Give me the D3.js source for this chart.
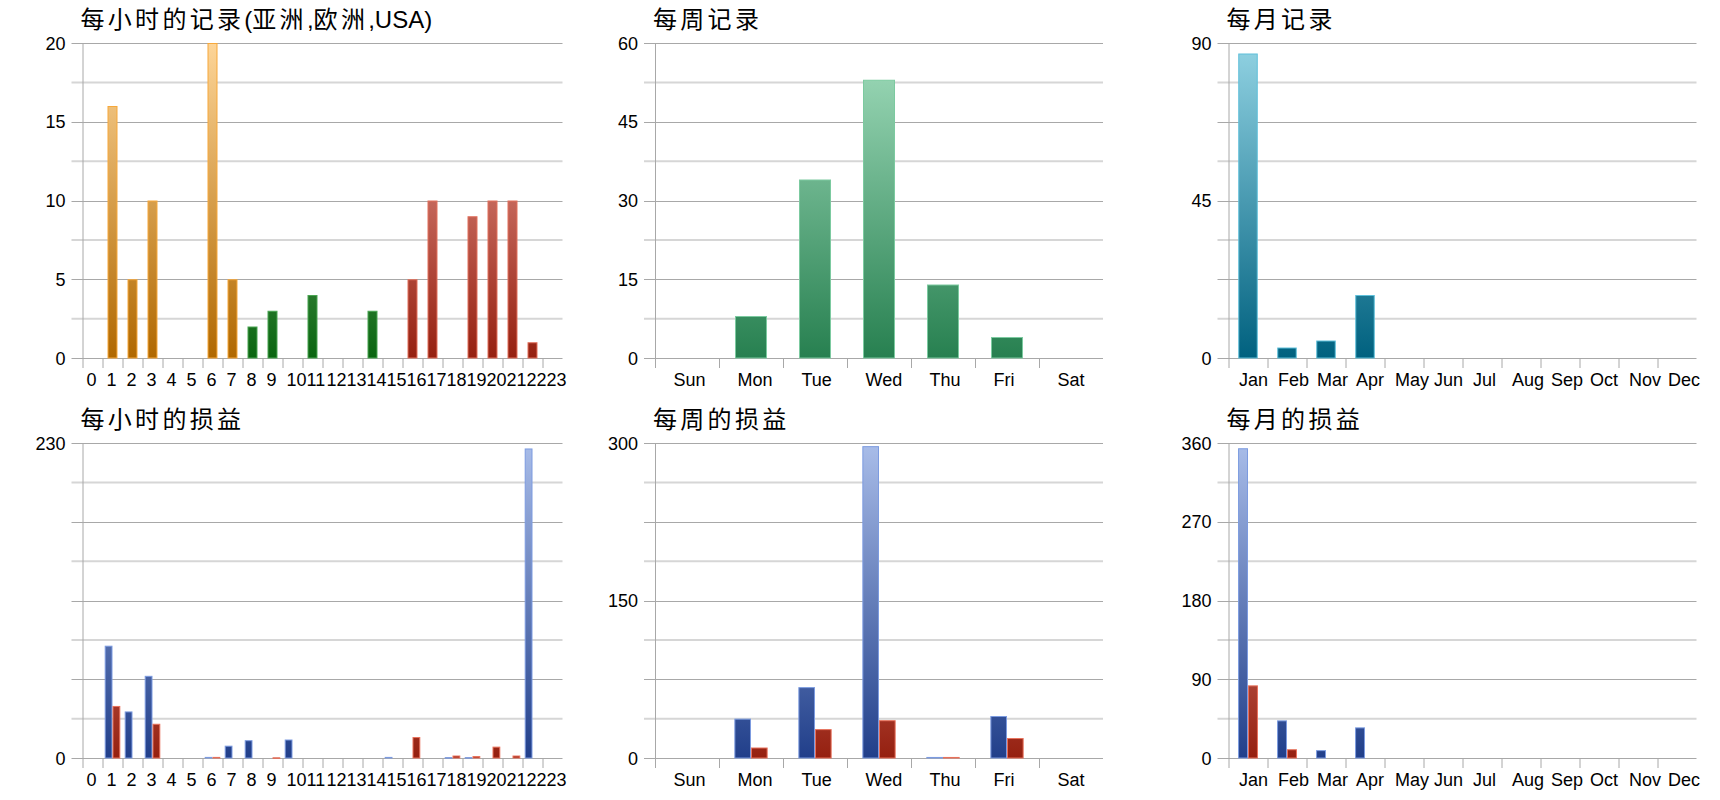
<!DOCTYPE html>
<html>
<head>
<meta charset="utf-8">
<script src="https://cdn.jsdelivr.net/npm/d3@7/dist/d3.min.js"></script>
<style>
  body { margin: 0; background: #fff; }
  text { font-family: "Liberation Sans", Arial, sans-serif; fill: #000; }
  .title { font-family: "Liberation Sans", "Noto Sans CJK SC", sans-serif; font-size: 24px; }
  .title .cjk { letter-spacing: 3.3px; }
  .tick-label { font-size: 18px; }
</style>
</head>
<body>
<svg id="chart" width="1720" height="800"></svg>
<script>
// ---- data ----
const HOUR_LABELS = ["0", "1", "2", "3", "4", "5", "6", "7", "8", "9", "10", "11",
  "12", "13", "14", "15", "16", "17", "18", "19", "20", "21", "22", "23"];
const DAY_LABELS = ["Sun", "Mon", "Tue", "Wed", "Thu", "Fri", "Sat"];
const MONTH_LABELS = ["Jan", "Feb", "Mar", "Apr", "May", "Jun", "Jul", "Aug", "Sep", "Oct", "Nov", "Dec"];

// region of each hour: 0 = 亚洲, 1 = 欧洲, 2 = USA
const HOUR_REGION = [0, 0, 0, 0, 0, 0, 0, 0, 1, 1, 1, 1, 1, 1, 1, 1, 2, 2, 2, 2, 2, 2, 2, 2];
const hourlyRecords = [0, 16, 5, 10, 0, 0, 20, 5, 2, 3, 0, 4, 0, 0, 3, 0, 5, 10, 0, 9, 10, 10, 1, 0];
const weeklyRecords = [0, 8, 34, 53, 14, 4, 0];
const monthlyRecords = [87, 3, 5, 18, 0, 0, 0, 0, 0, 0, 0, 0];

const hourlyProfit = [0, 82, 34, 60, 0, 0, 0.8, 9, 13, 0, 13.5, 0, 0, 0, 0, 0.8, 0, 0, 0.6, 0.6, 0, 0, 226, 0];
const hourlyLoss   = [0, 38, 0, 25, 0, 0, 0.8, 0, 0, 0.5, 0, 0, 0, 0, 0, 0, 15.3, 0, 1.8, 1.4, 8.3, 1.8, 0, 0];
const weeklyProfit = [0, 37.5, 67.5, 297, 1, 40, 0];
const weeklyLoss   = [0, 10, 27.5, 36, 1, 19, 0];
const monthlyProfit = [354, 43, 9, 35, 0, 0, 0, 0, 0, 0, 0, 0];
const monthlyLoss   = [83, 10, 0, 0, 0, 0, 0, 0, 0, 0, 0, 0];

// ---- palettes (top of plot -> baseline) ----
const RAMPS = {
  asia:   { top: "#fdd598", bottom: "#b06800", stroke: "#f7a83a" },
  europe: { top: "#9cc495", bottom: "#0a6510", stroke: "#4aa552" },
  usa:    { top: "#f3aca4", bottom: "#952010", stroke: "#e2705c" },
  week:   { top: "#a2ddbd", bottom: "#278050", stroke: "#7ccaa0" },
  month:  { top: "#92d3e3", bottom: "#00617f", stroke: "#5fc0da" },
  profit: { top: "#a9bde9", bottom: "#213f8a", stroke: "#7c9be0" },
  loss:   { top: "#f3aca4", bottom: "#952010", stroke: "#e8705a" },
};
const REGION_RAMP = ["asia", "europe", "usa"];

const PLOT_H = 315;
const svg = d3.select("#chart");
const defs = svg.append("defs");
let gradId = 0;

function gradient(ramp) {
  const id = "grad" + gradId++;
  const lg = defs.append("linearGradient").attr("id", id)
    .attr("gradientUnits", "userSpaceOnUse")
    .attr("x1", 0).attr("x2", 0).attr("y1", 0).attr("y2", PLOT_H);
  lg.append("stop").attr("offset", 0).attr("stop-color", RAMPS[ramp].top);
  lg.append("stop").attr("offset", 1).attr("stop-color", RAMPS[ramp].bottom);
  return `url(#${id})`;
}

function drawChart(opt) {
  const g = svg.append("g").attr("transform", `translate(${opt.left},${opt.top})`);
  const w = opt.width;
  const y = d3.scaleLinear().domain([0, opt.max]).range([PLOT_H, 0]);
  const x = d3.scaleBand().domain(opt.labels).range([0, w]);
  const step = x.step();

  // title: CJK runs get a little extra spacing, latin stays tight
  const title = g.append("text").attr("class", "title").attr("x", -2).attr("y", -15);
  title.selectAll("tspan")
    .data(opt.title.match(/[\u4e00-\u9fff]+|[^\u4e00-\u9fff]+/g))
    .join("tspan")
    .attr("class", (d) => (/[\u4e00-\u9fff]/.test(d) ? "cjk" : null))
    .text((d) => d);

  // gridlines: 8 divisions, every other one darker
  const grid = d3.range(9).map((i) => (opt.max * i) / 8);
  g.selectAll("line.minor")
    .data(grid.filter((d, i) => i % 2 === 1))
    .join("line")
    .attr("x1", -11).attr("x2", w)
    .attr("y1", (d) => y(d)).attr("y2", (d) => y(d))
    .attr("stroke", "#d6d6d6").attr("stroke-width", 2);
  g.selectAll("line.major")
    .data(grid.filter((d, i) => i % 2 === 0))
    .join("line")
    .attr("x1", -11).attr("x2", w)
    .attr("y1", (d) => Math.round(y(d)) + 0.5).attr("y2", (d) => Math.round(y(d)) + 0.5)
    .attr("stroke", "#a8a8a8").attr("stroke-width", 1);

  // y labels
  g.selectAll("text.ylab")
    .data(opt.yLabels)
    .join("text")
    .attr("class", "tick-label")
    .attr("text-anchor", "end")
    .attr("x", -17)
    .attr("y", (d) => y(d) + 6.5)
    .text((d) => d);

  // category ticks and axis line
  g.append("line")
    .attr("x1", 0.5).attr("x2", 0.5).attr("y1", 0).attr("y2", PLOT_H + 10)
    .attr("stroke", "#a8a8a8");
  g.selectAll("line.xtick")
    .data(opt.labels.slice(1))
    .join("line")
    .attr("x1", (d) => Math.round(x(d)) + 0.5).attr("x2", (d) => Math.round(x(d)) + 0.5)
    .attr("y1", PLOT_H).attr("y2", PLOT_H + 10)
    .attr("stroke", "#a8a8a8");

  g.selectAll("text.xlab")
    .data(opt.labels)
    .join("text")
    .attr("class", "tick-label")
    .attr("x", (d) => x(d) + opt.labelDx)
    .attr("y", PLOT_H + 28)
    .text((d) => d);

  // bars
  const groupW = step * opt.groupFrac;
  const inner = d3.scaleBand().domain(d3.range(opt.series.length)).range([0, groupW]);
  const fills = opt.series.map((s) => (s.ramps || [s.ramp]).map(gradient));

  opt.series.forEach((s, si) => {
    g.append("g")
      .selectAll("rect")
      .data(s.values.map((v, i) => ({ v, i, label: opt.labels[i] })).filter((d) => d.v > 0))
      .join("rect")
      .attr("x", (d) => x(d.label) + (step - groupW) / 2 + inner(si) + 0.5)
      .attr("width", inner.bandwidth() - 1)
      .attr("y", (d) => y(d.v) + 0.5)
      .attr("height", (d) => Math.max(0.5, PLOT_H - y(d.v) - 0.5))
      .attr("fill", (d) => fills[si][s.rampOf ? s.rampOf(d.i) : 0])
      .attr("stroke", (d) => RAMPS[s.ramps ? s.ramps[s.rampOf(d.i)] : s.ramp].stroke)
      .attr("stroke-width", 1);
  });
}

const ROW1 = 43, ROW2 = 443;

drawChart({
  title: "每小时的记录(亚洲,欧洲,USA)", left: 82.5, top: ROW1, width: 480,
  labels: HOUR_LABELS, max: 20, yLabels: [0, 5, 10, 15, 20], labelDx: 4, groupFrac: 0.5,
  series: [{ values: hourlyRecords, ramps: REGION_RAMP, rampOf: (i) => HOUR_REGION[i] }],
});
drawChart({
  title: "每周记录", left: 655, top: ROW1, width: 448,
  labels: DAY_LABELS, max: 60, yLabels: [0, 15, 30, 45, 60], labelDx: 18.5, groupFrac: 0.5,
  series: [{ values: weeklyRecords, ramp: "week" }],
});
drawChart({
  title: "每月记录", left: 1228.5, top: ROW1, width: 468,
  labels: MONTH_LABELS, max: 90, yLabels: [0, 45, 90], labelDx: 10.5, groupFrac: 0.5,
  series: [{ values: monthlyRecords, ramp: "month" }],
});
drawChart({
  title: "每小时的损益", left: 82.5, top: ROW2, width: 480,
  labels: HOUR_LABELS, max: 230, yLabels: [0, 230], labelDx: 4, groupFrac: 0.78,
  series: [{ values: hourlyProfit, ramp: "profit" }, { values: hourlyLoss, ramp: "loss" }],
});
drawChart({
  title: "每周的损益", left: 655, top: ROW2, width: 448,
  labels: DAY_LABELS, max: 300, yLabels: [0, 150, 300], labelDx: 18.5, groupFrac: 0.52,
  series: [{ values: weeklyProfit, ramp: "profit" }, { values: weeklyLoss, ramp: "loss" }],
});
drawChart({
  title: "每月的损益", left: 1228.5, top: ROW2, width: 468,
  labels: MONTH_LABELS, max: 360, yLabels: [0, 90, 180, 270, 360], labelDx: 10.5, groupFrac: 0.51,
  series: [{ values: monthlyProfit, ramp: "profit" }, { values: monthlyLoss, ramp: "loss" }],
});
</script>
</body>
</html>
